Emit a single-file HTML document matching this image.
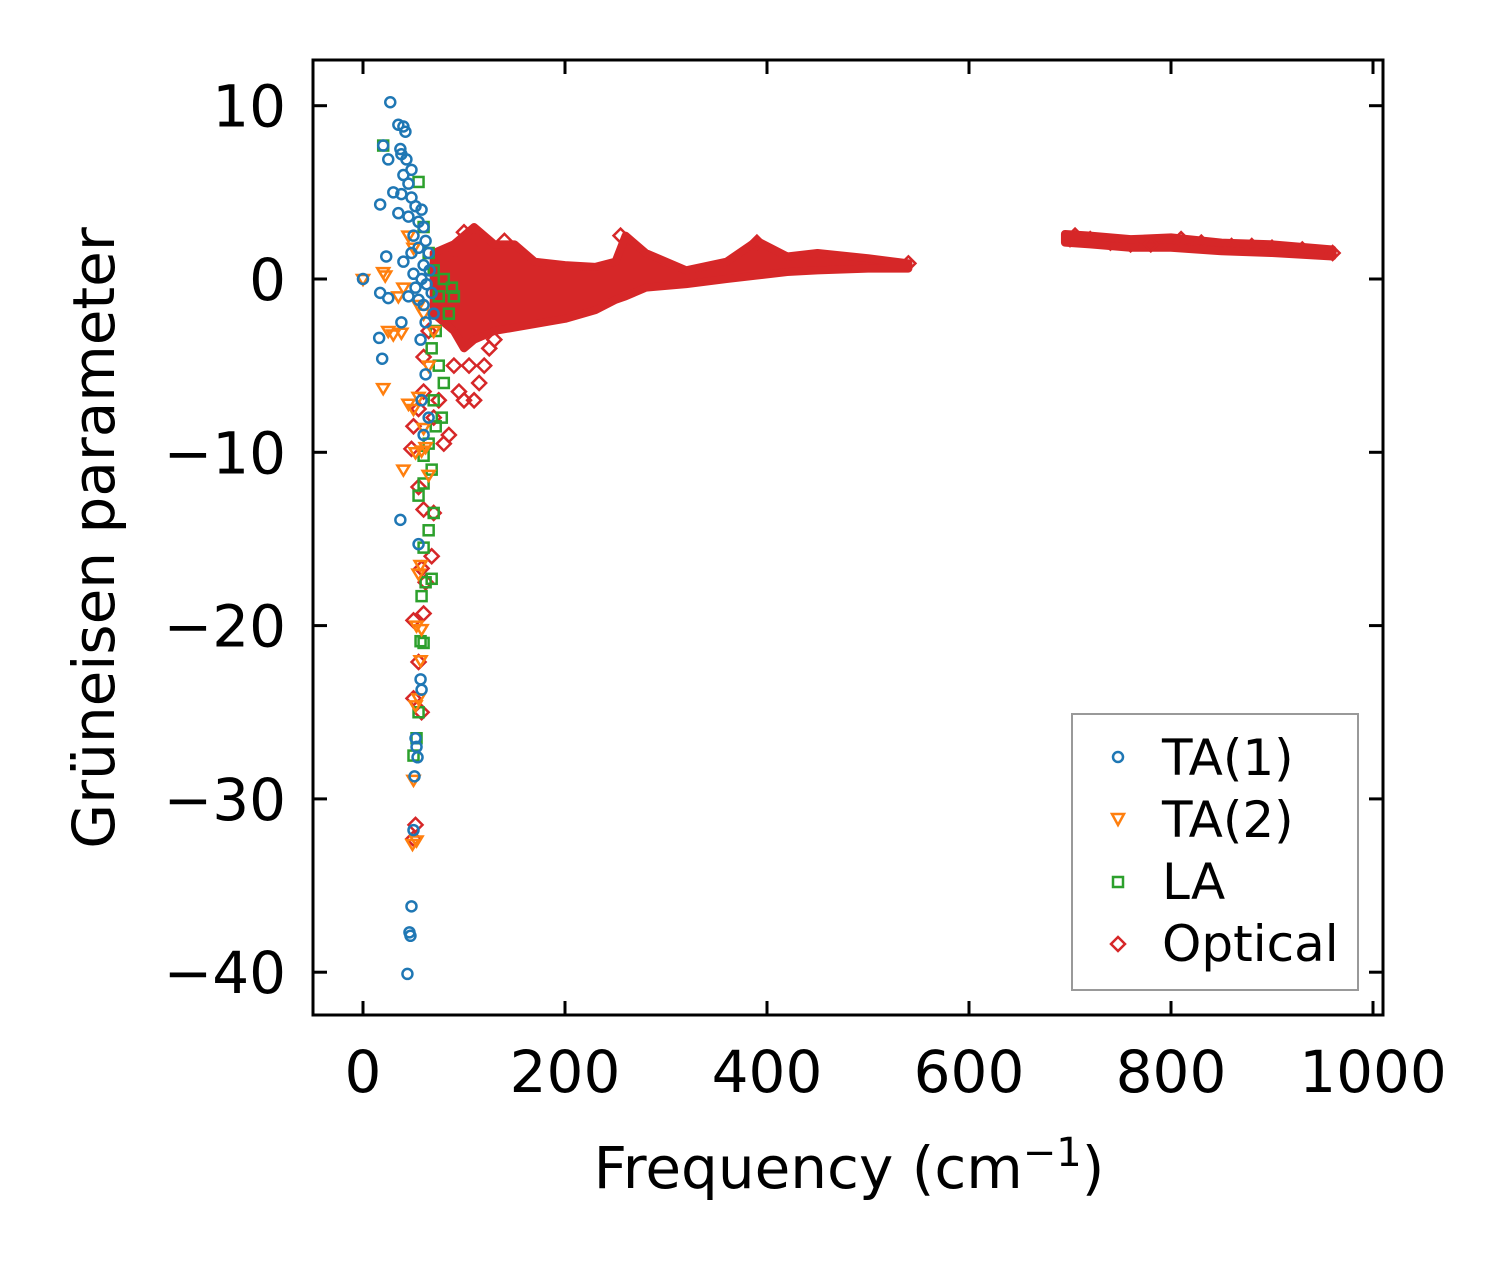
<!DOCTYPE html>
<html><head><meta charset="utf-8"><style>
body{margin:0;background:#fff}
svg text{font-family:"DejaVu Sans","Liberation Sans",sans-serif;fill:#000}
</style></head><body>
<svg id="chart" width="1509" height="1264" viewBox="0 0 1509 1264" xmlns="http://www.w3.org/2000/svg">
<rect width="1509" height="1264" fill="#fff"/>
<g id="marks"></g>
<g id="axes"></g>
<text x="849" y="1188" font-size="58" text-anchor="middle">Frequency (cm<tspan font-size="40" dy="-22">−1</tspan><tspan dy="22">)</tspan></text>
<text transform="translate(114,538) rotate(-90)" font-size="58" text-anchor="middle">Grüneisen parameter</text>
<g>
<rect x="1072" y="714" width="286" height="276" fill="#fff" stroke="#999" stroke-width="2"/>
<circle cx="1118" cy="757" r="5" fill="none" stroke="#1f77b4" stroke-width="2.5"/>
<text x="1162" y="775" font-size="50">TA(1)</text>
<path d="M1112,814 L1124,814 L1118,825 Z" fill="none" stroke="#ff7f0e" stroke-width="2.5"/>
<text x="1162" y="837" font-size="50">TA(2)</text>
<rect x="1113" y="877" width="10" height="10" fill="none" stroke="#2ca02c" stroke-width="2.5"/>
<text x="1162" y="899" font-size="50">LA</text>
<path d="M1118,937 L1125,944 L1118,951 L1111,944 Z" fill="none" stroke="#d62728" stroke-width="2.5"/>
<text x="1162" y="961" font-size="50">Optical</text>
</g>
</svg>
<script>
const xTicks=[0,200,400,600,800,1000];
const yTicks=[10,0,-10,-20,-30,-40];
const ta1=[[27,10.2],[35,8.9],[40,8.8],[42,8.5],[20,7.7],[37,7.5],[38,7.2],[43,6.9],[25,6.9],[48,6.3],[40,6.0],[45,5.5],[30,5.0],[38,4.9],[48,4.7],[17,4.3],[52,4.2],[35,3.8],[58,4.0],[45,3.6],[55,3.3],[60,3.0],[50,2.5],[62,2.2],[55,1.8],[65,1.5],[23,1.3],[40,1.0],[60,0.8],[50,0.3],[58,0],[63,-0.3],[68,-0.8],[45,-1.0],[55,-1.2],[25,-1.1],[17,-0.8],[60,-1.5],[70,-2],[38,-2.5],[16,-3.4],[57,-3.5],[19,-4.6],[62,-5.5],[58,-7],[65,-8],[60,-9],[37,-13.9],[55,-15.3],[57,-23.1],[58,-23.7],[52,-26.5],[53,-27],[54,-27.6],[51,-28.7],[50,-31.8],[48,-36.2],[46,-37.7],[47,-37.9],[44,-40.1],[0,0],[52,-0.5],[66,0.5],[48,1.5],[62,-2.5]];
const ta2=[[0,0],[20,0.4],[22,0.2],[45,2.5],[50,1.8],[40,-0.5],[35,-1],[55,-1.5],[25,-3],[30,-3.2],[38,-3.1],[20,-6.3],[45,-7.2],[50,-7.5],[55,-6.8],[60,-8.6],[58,-9.9],[62,-9.7],[52,-10],[40,-11],[65,-11.3],[57,-16.5],[55,-17],[53,-20],[58,-20.2],[57,-22],[55,-24.2],[52,-24.6],[50,-28.9],[49,-32.6],[53,-32.4],[65,-5],[70,-3],[60,-2]];
const la=[[20,7.7],[55,5.6],[60,3],[65,1.5],[70,0.5],[80,0],[88,-0.5],[90,-1],[75,-1],[85,-2],[72,-3],[68,-4],[75,-5],[80,-6],[70,-7],[78,-8],[72,-8.5],[65,-9.5],[60,-10.2],[68,-11],[55,-12.5],[70,-13.5],[65,-14.5],[60,-15.5],[68,-17.3],[58,-18.3],[57,-20.9],[60,-21],[55,-25],[53,-26.5],[50,-27.5],[62,-17.5],[60,-11.8]];
const optical=[[100,2.7],[110,2.7],[115,2.3],[85,1.3],[90,-5],[95,-6.5],[100,-7],[110,-7],[115,-6],[105,-5],[120,-5],[125,-4],[130,-3.5],[80,-9.5],[85,-9],[70,-8],[75,-7],[60,-6.5],[55,-7.5],[50,-8.5],[48,-9.8],[55,-12],[60,-13.3],[70,-13.5],[68,-16],[58,-16.7],[62,-17.5],[50,-19.7],[60,-19.3],[55,-22.1],[58,-25],[50,-24.2],[52,-31.5],[50,-32.3],[60,-4.5],[65,-3],[700,2.3],[705,2.5],[720,2.3],[740,2.1],[760,2.0],[780,2.0],[800,2.1],[810,2.3],[830,2.1],[860,1.9],[880,1.9],[900,1.8],[930,1.7],[960,1.5],[255,2.5],[390,2.1],[140,2.2],[540,0.9]];
const band1Freq=[70,90,100,110,130,150,170,200,230,250,260,280,320,360,390,420,450,500,540];
const band1Upper=[1.5,2,2.5,3,2,2,1,0.8,0.7,1,2.5,1.5,0.5,1,2.2,1.3,1.5,1.2,0.9];
const band1Lower=[-2,-3,-4,-3.5,-3,-2.8,-2.6,-2.3,-1.8,-1.2,-1,-0.5,-0.3,0,0.2,0.4,0.5,0.6,0.6];
const band2Freq=[695,720,760,800,850,900,960];
const band2Upper=[2.6,2.5,2.3,2.4,2.1,2,1.7];
const band2Lower=[2.1,2.0,1.8,1.8,1.6,1.5,1.3];

const NS='http://www.w3.org/2000/svg';
const X0=313,X1=1383,Y0=60,Y1=1015;
function sx(v){return 363+v*1.01;}
function sy(v){return 279-v*17.33;}
const marks=document.getElementById('marks');
const axes=document.getElementById('axes');
function mk(tag,attrs,parent){const e=document.createElementNS(NS,tag);for(const k in attrs)e.setAttribute(k,attrs[k]);parent.appendChild(e);return e;}

function band(fr,up,lo,name){
  let pts=fr.map((f,i)=>sx(f)+','+sy(up[i]));
  for(let i=fr.length-1;i>=0;i--)pts.push(sx(fr[i])+','+sy(lo[i]));
  const p=mk('polygon',{points:pts.join(' '),fill:'#d62728',stroke:'#d62728','stroke-width':8,'stroke-linejoin':'round'},marks);
  
  
}
band(band1Freq,band1Upper,band1Lower,'optical-band-low');
band(band2Freq,band2Upper,band2Lower,'optical-band-high');

optical.forEach(d=>{const x=sx(d[0]),y=sy(d[1]);
  const e=mk('path',{d:`M${x},${y-7}L${x+7},${y}L${x},${y+7}L${x-7},${y}Z`,fill:'none',stroke:'#d62728','stroke-width':2.5},marks);
  
  });
la.forEach(d=>{const x=sx(d[0]),y=sy(d[1]);
  const e=mk('rect',{x:x-5,y:y-5,width:10,height:10,fill:'none',stroke:'#2ca02c','stroke-width':2.5},marks);
  
  });
ta2.forEach(d=>{const x=sx(d[0]),y=sy(d[1]);
  const e=mk('path',{d:`M${x-6},${y-4}L${x+6},${y-4}L${x},${y+6}Z`,fill:'none',stroke:'#ff7f0e','stroke-width':2.5},marks);
  
  });
ta1.forEach(d=>{const e=mk('circle',{cx:sx(d[0]),cy:sy(d[1]),r:5,fill:'none',stroke:'#1f77b4','stroke-width':2.5},marks);
  
  });

const frame=mk('rect',{x:X0,y:Y0,width:X1-X0,height:Y1-Y0,fill:'none',stroke:'#000','stroke-width':3},axes);


xTicks.forEach(t=>{const x=sx(t);
  mk('line',{x1:x,x2:x,y1:Y1,y2:Y1-14,stroke:'#000','stroke-width':3},axes);
  mk('line',{x1:x,x2:x,y1:Y0,y2:Y0+14,stroke:'#000','stroke-width':3},axes);
  const tx=mk('text',{x:x,y:1092,'font-size':58,'text-anchor':'middle'},axes);tx.textContent=t;
  
  });
yTicks.forEach(t=>{const y=sy(t);
  mk('line',{x1:X0,x2:X0+14,y1:y,y2:y,stroke:'#000','stroke-width':3},axes);
  mk('line',{x1:X1,x2:X1-14,y1:y,y2:y,stroke:'#000','stroke-width':3},axes);
  const tx=mk('text',{x:286,y:y+21,'font-size':58,'text-anchor':'end'},axes);tx.textContent=t<0?'−'+(-t):t;
  
  });
</script>
</body></html>
